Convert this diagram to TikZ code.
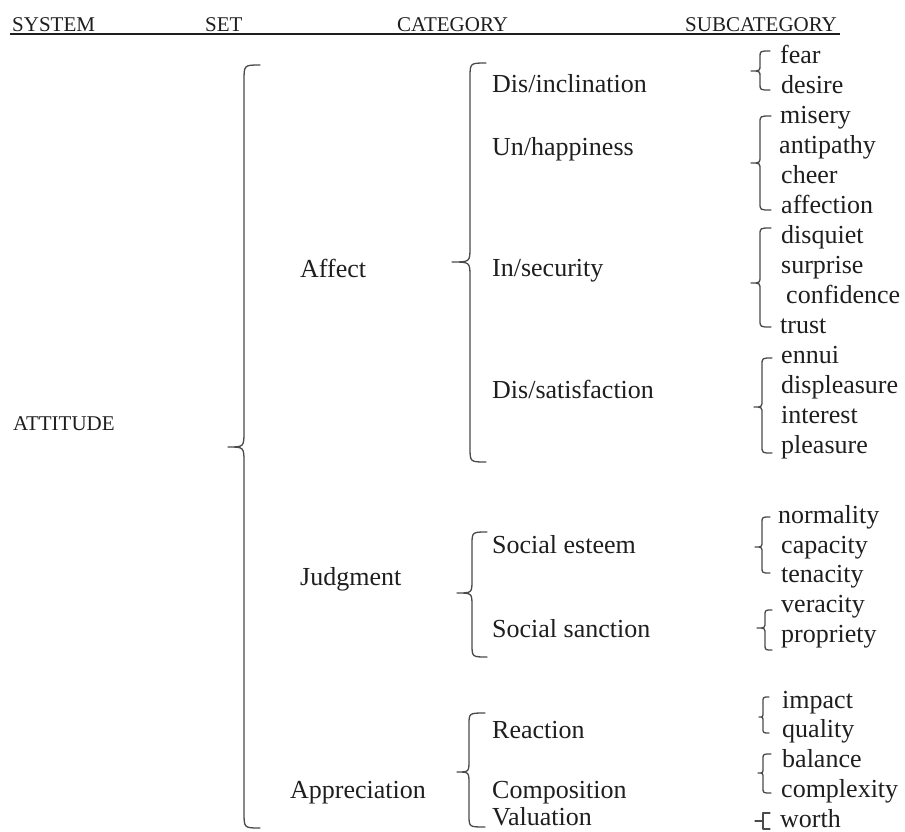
\documentclass[tikz,border=0pt]{standalone}
\usepackage{fontspec}
\setmainfont{Liberation Serif}
\definecolor{ink}{HTML}{1E1E1E}
\definecolor{brc}{HTML}{4A4A4A}
\tikzset{
  hdr/.style={anchor=base west, inner sep=0pt, text=ink, font=\fontsize{21}{24}\selectfont},
  txt/.style={anchor=base west, inner sep=0pt, text=ink, font=\fontsize{26}{30}\selectfont},
  bracestyle/.style={draw=brc, line width=1.3pt, line cap=round, line join=round},
}
% \brc{end x}{line x}{tip x}{top y}{tip y}{bottom y}{curl}
\newcommand\brc[7]{\draw[bracestyle] (#1,#4) .. controls (#2,#4) .. (#2,{#4+#7}) -- (#2,{#5-#7}) .. controls (#2,#5) .. (#3,#5) .. controls (#2,#5) .. (#2,{#5+#7}) -- (#2,{#6-#7}) .. controls (#2,#6) .. (#1,#6);}
\begin{document}
\begin{tikzpicture}[x=1pt,y=-1pt]
\useasboundingbox (0,0) rectangle (905,831);
% header
\node[hdr] (hsys) at (12,31) {SYSTEM};
\node[hdr] (hset) at (205,31) {SET};
\node[hdr] (hcat) at (397,31) {CATEGORY};
\node[hdr] (hsub) at (685,31) {SUBCATEGORY};
\draw[draw=ink, line width=1.4pt] (10,34) -- (840,34);
% system
\node[hdr] (attitude) at (13,430) {ATTITUDE};
\brc{260}{244}{228}{65}{447}{828}{16}
% sets
\node[txt] (affect) at (300,277) {Affect};
\node[txt] (judgment) at (300,585) {Judgment};
\node[txt] (appreciation) at (290,798) {Appreciation};
\brc{486}{470}{452}{63}{262}{462}{15}
\brc{487}{472}{457}{532}{593}{657}{13}
\brc{485}{469}{457}{713}{772}{827}{12}
% categories
\node[txt] (c1) at (492,92) {Dis/inclination};
\node[txt] (c2) at (492,155) {Un/happiness};
\node[txt] (c3) at (492,276) {In/security};
\node[txt] (c4) at (492,398) {Dis/satisfaction};
\node[txt] (c5) at (492,553) {Social esteem};
\node[txt] (c6) at (492,637) {Social sanction};
\node[txt] (c7) at (492,738) {Reaction};
\node[txt] (c8) at (492,798) {Composition};
\node[txt] (c9) at (492,825) {Valuation};
% subcategory braces
\brc{770}{760}{751}{51}{71}{90}{6}
\brc{771}{760}{751}{116}{163}{210}{7}
\brc{771}{760}{751}{228}{283}{327}{7}
\brc{772}{762}{754}{358}{407}{453}{7}
\brc{770}{762}{755}{517}{547}{573}{6}
\brc{772}{765}{757}{610}{628}{650}{6}
\brc{769}{763}{759}{697}{717}{733}{5}
\brc{771}{763}{758}{754}{773}{793}{5}
\draw[bracestyle] (755,821) -- (763,821);
\draw[bracestyle] (770,813) -- (763,813) -- (763,829) -- (770,829);
% subcategories
\node[txt] (s1) at (780,63) {fear};
\node[txt] (s2) at (781,93) {desire};
\node[txt] (s3) at (780,123) {misery};
\node[txt] (s4) at (779,153) {antipathy};
\node[txt] (s5) at (781,183) {cheer};
\node[txt] (s6) at (781,213) {affection};
\node[txt] (s7) at (781,243) {disquiet};
\node[txt] (s8) at (781,273) {surprise};
\node[txt] (s9) at (786,303) {confidence};
\node[txt] (s10) at (780,333) {trust};
\node[txt] (s11) at (781,363) {ennui};
\node[txt] (s12) at (781,393) {displeasure};
\node[txt] (s13) at (781,423) {interest};
\node[txt] (s14) at (781,453) {pleasure};
\node[txt] (s15) at (778,523) {normality};
\node[txt] (s16) at (781,553) {capacity};
\node[txt] (s17) at (781,582) {tenacity};
\node[txt] (s18) at (781,612) {veracity};
\node[txt] (s19) at (781,642) {propriety};
\node[txt] (s20) at (782,708) {impact};
\node[txt] (s21) at (782,737) {quality};
\node[txt] (s22) at (782,767) {balance};
\node[txt] (s23) at (781,797) {complexity};
\node[txt] (s24) at (780,827) {worth};
\end{tikzpicture}
\end{document}
